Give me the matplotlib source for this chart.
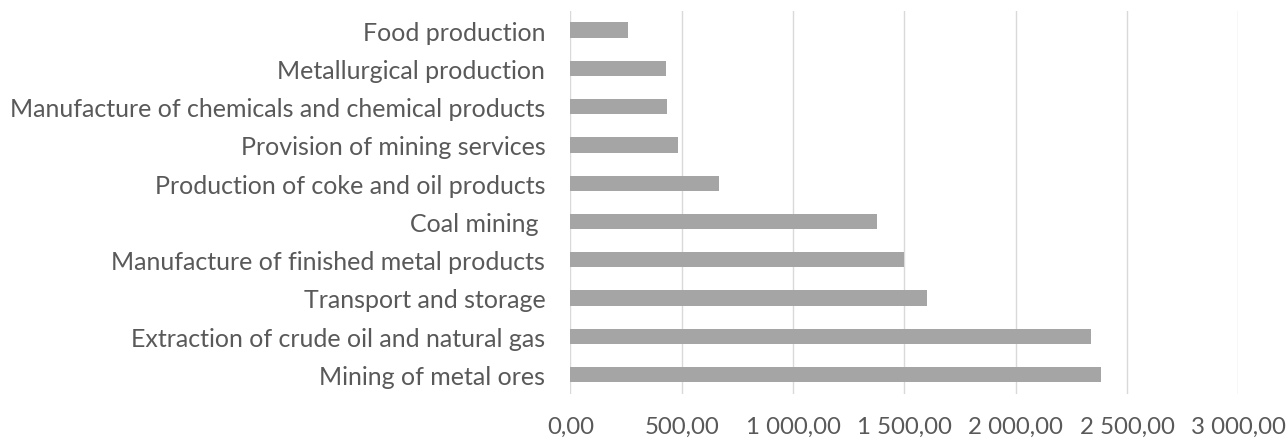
import matplotlib
matplotlib.use('Agg')
import matplotlib.pyplot as plt
from matplotlib.ticker import FuncFormatter, MultipleLocator

# Bottom-to-top order, as drawn
categories = [
    'Mining of metal ores',
    'Extraction of crude oil and natural gas',
    'Transport and storage',
    'Manufacture of finished metal products',
    'Coal mining ',
    'Production of coke and oil products',
    'Provision of mining services',
    'Manufacture of chemicals and chemical products',
    'Metallurgical production',
    'Food production',
]
values = [2383, 2339, 1601, 1498, 1378, 666, 484, 436, 429, 261]


def fmt(x, pos):
    s = '{:,.2f}'.format(x)
    return s.replace(',', ' ').replace('.', ',')


plt.rcParams['font.family'] = ['Lato', 'DejaVu Sans']

fig = plt.figure(figsize=(12.86, 4.39), dpi=100)
ax = fig.add_axes([0.4435, 0.1011, 0.5195, 0.8716])

ax.barh(range(len(categories)), values, height=0.4, color='#A5A5A5', zorder=3)
ax.set_yticks(range(len(categories)))
ax.set_yticklabels(categories)
ax.set_ylim(-0.5, len(categories) - 0.5)

ax.set_xlim(0, 3000)
ax.xaxis.set_major_locator(MultipleLocator(500))
ax.xaxis.set_major_formatter(FuncFormatter(fmt))
ax.grid(axis='x', color='#D9D9D9', linewidth=1.0, zorder=0)

for s in ax.spines.values():
    s.set_visible(False)
ax.tick_params(axis='both', length=0, labelcolor='#595959')
ax.tick_params(axis='y', pad=18, labelsize=18)
ax.tick_params(axis='x', pad=16, labelsize=17.3)

fig.savefig('out.png', dpi=100)
